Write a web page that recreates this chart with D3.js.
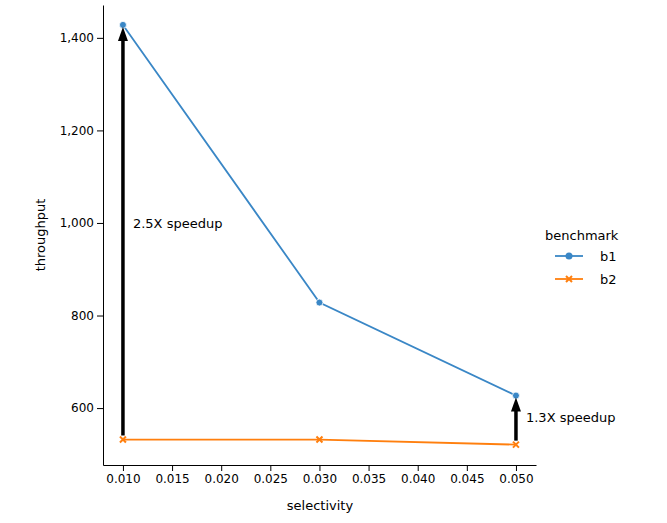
<!DOCTYPE html>
<html>
<head>
<meta charset="utf-8">
<script src="https://cdn.jsdelivr.net/npm/d3@7"></script>
<style>
  body { margin: 0; background: #fff; }
  text { font-family: "DejaVu Sans", sans-serif; }
</style>
</head>
<body>
<svg id="chart" width="667" height="523"></svg>
<script>
// chart values
var selectivity = [0.01, 0.03, 0.05];
var b1 = [1428, 828, 627];
var b2 = [532, 532, 521];
var xTicks = [0.010, 0.015, 0.020, 0.025, 0.030, 0.035, 0.040, 0.045, 0.050];
var yTicks = [600, 800, 1000, 1200, 1400];
var notes = [
  {i: 0, label: "2.5X speedup", dx: 10, y: 1000},
  {i: 2, label: "1.3X speedup", dx: 10, y: 580}
];

var svg = d3.select("#chart");
var x = d3.scaleLinear().domain([0.00797, 0.05204]).range([103, 536]);
var y = d3.scaleLinear().domain([477, 1471]).range([465, 5]);

svg.append("g").attr("transform", "translate(0,465)")
  .call(d3.axisBottom(x).tickValues(xTicks).tickFormat(d3.format(".3f")).tickSizeOuter(0))
  .call(function(g) { g.selectAll("text").attr("font-size", 12).attr("fill", "#000"); });
svg.append("g").attr("transform", "translate(103,0)")
  .call(d3.axisLeft(y).tickValues(yTicks).tickSizeOuter(0))
  .call(function(g) { g.selectAll("text").attr("font-size", 12).attr("fill", "#000"); });

svg.append("text").attr("x", 320).attr("y", 510).attr("text-anchor", "middle")
  .attr("font-size", 13).text("selectivity");
svg.append("text").attr("transform", "translate(45,235) rotate(-90)")
  .attr("text-anchor", "middle").attr("font-size", 13).text("throughput");

var line = d3.line().x(function(d) { return x(d[0]); }).y(function(d) { return y(d[1]); });
var blue = "#3a87c6", orange = "#ff7f0e";
var s1 = d3.zip(selectivity, b1), s2 = d3.zip(selectivity, b2);

svg.append("path").datum(s1).attr("d", line).attr("fill", "none").attr("stroke", blue).attr("stroke-width", 1.8);
svg.append("path").datum(s2).attr("d", line).attr("fill", "none").attr("stroke", orange).attr("stroke-width", 1.8);

svg.selectAll(".p1").data(s1).enter().append("circle")
  .attr("cx", function(d) { return x(d[0]); }).attr("cy", function(d) { return y(d[1]); })
  .attr("r", 3.5).attr("fill", blue).attr("stroke", "#fff").attr("stroke-width", 0.8);

function cross(sel, s) {
  sel.append("path").attr("d", "M-3,-3L3,3M-3,3L3,-3").attr("stroke", orange).attr("stroke-width", s);
}
svg.selectAll(".p2").data(s2).enter().append("g")
  .attr("transform", function(d) { return "translate(" + x(d[0]) + "," + y(d[1]) + ")"; })
  .call(cross, 2);

// speedup arrows
notes.forEach(function(n) {
  var px = x(selectivity[n.i]), y0 = y(b2[n.i]) - 4, y1 = y(b1[n.i]) + 2;
  svg.append("line").attr("x1", px).attr("x2", px).attr("y1", y0).attr("y2", y1 + 12)
    .attr("stroke", "#000").attr("stroke-width", 3.5);
  svg.append("path").attr("d", "M" + (px - 5) + "," + (y1 + 14) + "L" + px + "," + y1 + "L" + (px + 5) + "," + (y1 + 14) + "Z")
    .attr("fill", "#000");
  svg.append("text").attr("x", px + n.dx).attr("y", y(n.y) + 5).attr("font-size", 13).text(n.label);
});

// legend
var lg = svg.append("g").attr("transform", "translate(545,0)");
lg.append("text").attr("x", 0).attr("y", 240).attr("font-size", 13).text("benchmark");
lg.append("line").attr("x1", 10).attr("x2", 38).attr("y1", 256).attr("y2", 256).attr("stroke", blue).attr("stroke-width", 1.8);
lg.append("circle").attr("cx", 24).attr("cy", 256).attr("r", 3.5).attr("fill", blue);
lg.append("text").attr("x", 55).attr("y", 261).attr("font-size", 13).text("b1");
lg.append("line").attr("x1", 10).attr("x2", 38).attr("y1", 279).attr("y2", 279).attr("stroke", orange).attr("stroke-width", 1.8);
lg.append("g").attr("transform", "translate(24,279)").call(cross, 2);
lg.append("text").attr("x", 55).attr("y", 284).attr("font-size", 13).text("b2");
</script>
</body>
</html>
